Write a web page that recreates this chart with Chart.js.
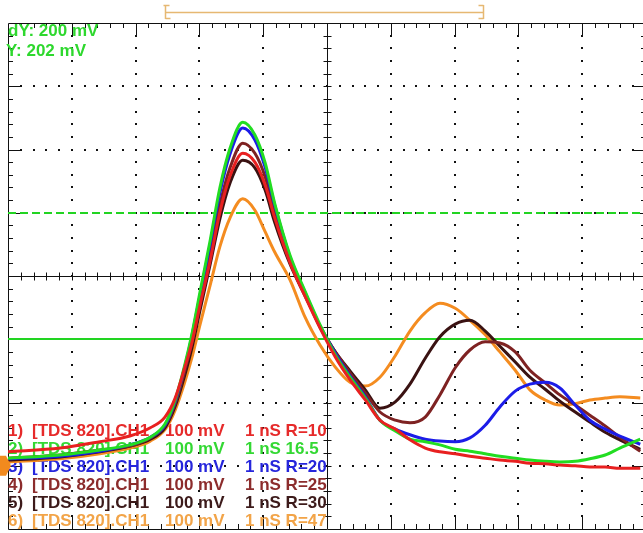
<!DOCTYPE html>
<html>
<head>
<meta charset="utf-8">
<script src="https://cdn.jsdelivr.net/npm/chart.js@4.4.1/dist/chart.umd.min.js"></script>
<style>
  html, body { margin: 0; padding: 0; background: #fff; overflow: hidden; }
  #wrap { width: 643px; height: 533px; overflow: hidden; }
</style>
</head>
<body>
<div id="wrap"><canvas id="scope" width="660" height="533"></canvas></div>
<script>
// time axis (ns, 1 ns/div) and traces (mV, 100 mV/div, screen centre = 0)
const timesNs = [0, 0.82, 1.44, 1.91, 2.23, 2.46, 2.62, 2.77, 2.88, 3.01, 3.17, 3.32, 3.48, 3.68, 3.87, 4.03, 4.18, 4.42, 4.66, 4.89,
  5.13, 5.36, 5.60, 5.83, 6.07, 6.30, 6.54, 6.77, 7.01, 7.24, 7.48, 7.71, 7.95, 8.18, 8.42, 8.65, 8.89, 9.12, 9.36, 9.59, 9.91];

const traceR10 = [-278, -272, -262, -253, -240, -223, -193, -145, -106, -46, 25, 100, 158, 194, 180, 144, 92, 21, -33, -82,
  -128, -164, -196, -228, -242, -259, -272, -278, -281, -285, -288, -291, -293, -296, -297, -299, -300, -302, -302, -304, -304];
const traceR165 = [-288, -283, -275, -267, -255, -234, -196, -141, -93, -25, 57, 139, 202, 243, 223, 179, 115, 33, -25, -77,
  -125, -160, -193, -228, -245, -258, -262, -267, -274, -277, -281, -285, -288, -291, -293, -294, -293, -289, -283, -272, -258];
const traceR20 = [-289, -285, -277, -267, -255, -236, -198, -144, -96, -30, 51, 131, 193, 234, 215, 172, 112, 30, -27, -79,
  -122, -158, -191, -228, -242, -251, -258, -261, -262, -256, -236, -207, -182, -171, -168, -177, -204, -228, -242, -253, -266];
const traceR25 = [-288, -283, -275, -269, -256, -237, -202, -150, -106, -41, 36, 112, 171, 210, 194, 157, 101, 25, -30, -81,
  -120, -153, -185, -215, -228, -232, -223, -188, -145, -117, -104, -106, -120, -149, -169, -188, -204, -220, -237, -255, -277];
const traceR30 = [-291, -286, -278, -269, -258, -240, -206, -157, -115, -54, 19, 90, 147, 183, 171, 136, 85, 19, -32, -79,
  -120, -150, -180, -209, -199, -171, -130, -96, -76, -70, -87, -111, -136, -160, -179, -198, -215, -231, -247, -259, -274];
const traceR47 = [-294, -289, -281, -272, -261, -243, -212, -168, -130, -77, -14, 46, 92, 122, 104, 70, 38, -6, -66, -109,
  -144, -168, -174, -160, -126, -87, -58, -43, -51, -70, -93, -120, -149, -180, -196, -204, -202, -196, -193, -191, -193];

const cursorLevels = [100, -100];
const groundLevel = -300;
const bracketNs = [2.46, 7.45];

const legendLines = [
  ['1)', '[TDS 820].CH1', '100 mV', '1 nS R=10', '#e62a2a'],
  ['2)', '[TDS 820].CH1', '100 mV', '1 nS 16.5', '#33d833'],
  ['3)', '[TDS 820].CH1', '100 mV', '1 nS R=20', '#2626dc'],
  ['4)', '[TDS 820].CH1', '100 mV', '1 nS R=25', '#8c2c2c'],
  ['5)', '[TDS 820].CH1', '100 mV', '1 nS R=30', '#3c1a1a'],
  ['6)', '[TDS 820].CH1', '100 mV', '1 nS R=47', '#f2a448']
];
const cursorText = ['dY: 200 mV', 'Y: 202 mV'];

const toPoints = vals => timesNs.map((t, i) => ({ x: t, y: vals[i] }));

const scopeGrid = {
  id: 'scopeGrid',
  beforeDatasetsDraw(chart) {
    const { ctx, chartArea: a, scales: { x, y } } = chart;
    ctx.save();
    ctx.fillStyle = '#111';

    // dotted graticule
    for (let t = 1; t < 10; t++) {
      if (t === 5) continue;
      const px = Math.round(x.getPixelForValue(t));
      for (let v = -380; v < 400; v += 20) {
        ctx.fillRect(px - 1, Math.round(y.getPixelForValue(v)) - 1, 2, 2);
      }
    }
    for (let v = -300; v <= 300; v += 100) {
      if (v === 0) continue;
      const py = Math.round(y.getPixelForValue(v));
      for (let i = 1; i < 50; i++) {
        ctx.fillRect(Math.round(x.getPixelForValue(i / 5)) - 1, py - 1, 2, 2);
      }
    }

    // centre cross and border
    ctx.strokeStyle = '#111';
    ctx.lineWidth = 1;
    const cx = Math.round(x.getPixelForValue(5)) + 0.5;
    const cy = Math.round(y.getPixelForValue(0)) + 0.5;
    ctx.beginPath();
    ctx.moveTo(cx, a.top); ctx.lineTo(cx, a.bottom);
    ctx.moveTo(a.left, cy); ctx.lineTo(a.right, cy);
    ctx.rect(a.left + 0.5, a.top + 0.5, a.right - a.left, a.bottom - a.top);

    for (let i = 1; i < 50; i++) {
      const px = Math.round(x.getPixelForValue(i / 5)) + 0.5;
      const len = i % 5 === 0 ? 14 : 5;
      ctx.moveTo(px, cy - 4); ctx.lineTo(px, cy + 4);
      ctx.moveTo(px, a.top); ctx.lineTo(px, a.top + len);
      ctx.moveTo(px, a.bottom); ctx.lineTo(px, a.bottom - len);
    }
    for (let v = -380; v < 400; v += 20) {
      const py = Math.round(y.getPixelForValue(v)) + 0.5;
      const len = v % 100 === 0 ? 14 : 5;
      ctx.moveTo(cx - 4, py); ctx.lineTo(cx + 4, py);
      ctx.moveTo(a.left, py); ctx.lineTo(a.left + len, py);
      ctx.moveTo(a.right, py); ctx.lineTo(a.right - len, py);
    }
    ctx.stroke();

    // cursors
    ctx.strokeStyle = '#22d422';
    ctx.lineWidth = 2;
    cursorLevels.forEach((lvl, i) => {
      const py = Math.round(y.getPixelForValue(lvl));
      ctx.setLineDash(i === 0 ? [8, 4] : []);
      ctx.beginPath();
      ctx.moveTo(a.left, py); ctx.lineTo(a.right, py);
      ctx.stroke();
    });
    ctx.setLineDash([]);

    // readouts
    ctx.font = 'bold 17px "Liberation Sans", Arial, sans-serif';
    ctx.textBaseline = 'middle';
    ctx.fillStyle = '#2ed82e';
    ctx.fillText(cursorText[0], 8, 31);
    ctx.fillText(cursorText[1], 6, 51);

    legendLines.forEach((ln, i) => {
      const ty = 431 + i * 18;
      ctx.fillStyle = ln[4];
      ctx.fillText(ln[0], 8, ty);
      ctx.fillText(ln[1], 32, ty);
      ctx.fillText(ln[2], 165, ty);
      ctx.fillText(ln[3], 245, ty);
    });
    ctx.restore();
  },
  afterDraw(chart) {
    const { ctx, scales: { x, y } } = chart;
    ctx.save();
    // horizontal position bracket
    const x0 = Math.round(x.getPixelForValue(bracketNs[0])) + 0.5;
    const x1 = Math.round(x.getPixelForValue(bracketNs[1])) + 0.5;
    ctx.strokeStyle = '#e6b872';
    ctx.lineWidth = 1.5;
    ctx.beginPath();
    ctx.moveTo(x0, 12.5); ctx.lineTo(x1, 12.5);
    ctx.moveTo(x0, 5); ctx.lineTo(x0, 19);
    ctx.moveTo(x0 - 2, 5.5); ctx.lineTo(x0 + 4, 5.5);
    ctx.moveTo(x0, 18.5); ctx.lineTo(x0 + 5, 18.5);
    ctx.moveTo(x1, 5); ctx.lineTo(x1, 19);
    ctx.moveTo(x1 - 5, 5.5); ctx.lineTo(x1, 5.5);
    ctx.moveTo(x1 - 5, 18.5); ctx.lineTo(x1, 18.5);
    ctx.stroke();

    // ground marker
    const gy = y.getPixelForValue(groundLevel);
    ctx.fillStyle = '#f28a1e';
    ctx.beginPath();
    ctx.moveTo(0, gy - 10);
    ctx.lineTo(6, gy - 10);
    ctx.lineTo(11, gy);
    ctx.lineTo(6, gy + 10);
    ctx.lineTo(0, gy + 10);
    ctx.closePath();
    ctx.fill();
    ctx.restore();
  }
};

const series = [
  { label: 'R=10', data: traceR10, color: '#e82020' },
  { label: 'R=16.5', data: traceR165, color: '#22dd22' },
  { label: 'R=20', data: traceR20, color: '#1c1ce8' },
  { label: 'R=25', data: traceR25, color: '#7e2222' },
  { label: 'R=30', data: traceR30, color: '#3a1212' },
  { label: 'R=47', data: traceR47, color: '#f48c20' }
];

new Chart(document.getElementById('scope').getContext('2d'), {
  type: 'line',
  data: {
    datasets: series.map(s => ({
      label: s.label,
      data: toPoints(s.data),
      borderColor: s.color,
      borderWidth: 3,
      pointRadius: 0,
      cubicInterpolationMode: 'monotone',
      fill: false
    }))
  },
  options: {
    responsive: false,
    animation: false,
    events: [],
    layout: { padding: { left: 8, top: 23, right: 14, bottom: 4 } },
    scales: {
      x: { type: 'linear', min: 0, max: 10, display: false },
      y: { type: 'linear', min: -400, max: 400, display: false }
    },
    plugins: {
      legend: { display: false },
      tooltip: { enabled: false }
    }
  },
  plugins: [scopeGrid]
});
</script>
</body>
</html>
